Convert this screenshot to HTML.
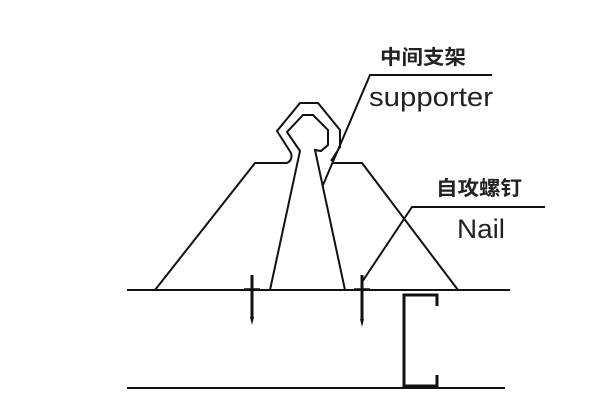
<!DOCTYPE html><html><head><style>body{margin:0;background:#fff}svg{display:block}</style></head><body>
<svg width="600" height="400" viewBox="0 0 600 400" xmlns="http://www.w3.org/2000/svg">
<g fill="none" stroke="#111" stroke-width="2" stroke-linejoin="miter">
<line x1="127" y1="290" x2="510" y2="290"/>
<line x1="127" y1="388" x2="505" y2="388"/>
<path d="M155 290 L255 163 L287 163 Q293 160 291 153 L277 131 L300 103 L318 103 L340 130 L340 147 L331 161"/>
<path d="M332 163 L362 163 L458 290"/>
<path d="M270 290 L300 151 L287 132 L303 115 L313 115 L328 130 L328 145 L321 151 L315 150 L345 290"/>
<path d="M323 185 L370 75 L492 75"/>
<path d="M362 282 L412 207 L545 207"/>
</g>
<g stroke="#111" stroke-width="3" fill="none">
<line x1="252" y1="275" x2="252" y2="318"/>
<line x1="362" y1="275" x2="362" y2="320"/>
<path d="M437 306 L437 295 L404 295 L404 386 L437 386 L437 375"/>
</g>
<g fill="#111"><path d="M250 317 L254 317 L252 325Z"/><path d="M360 319 L364 319 L362 327Z"/></g>
<g stroke="#111" stroke-width="1.5">
<line x1="244" y1="289" x2="260" y2="289"/><line x1="354" y1="289" x2="370" y2="289"/>
</g>
<g font-family="'Liberation Sans','Noto Sans CJK SC',sans-serif" fill="#222">
<text x="380" y="64" font-size="20" font-weight="bold" textLength="86" lengthAdjust="spacingAndGlyphs">中间支架</text>
<text x="369" y="106" font-size="27" textLength="124" lengthAdjust="spacingAndGlyphs">supporter</text>
<text x="436" y="195" font-size="20" font-weight="bold" textLength="86" lengthAdjust="spacingAndGlyphs">自攻螺钉</text>
<text x="457" y="238" font-size="27" textLength="48" lengthAdjust="spacingAndGlyphs">Nail</text>
</g>
</svg>
</body></html>
